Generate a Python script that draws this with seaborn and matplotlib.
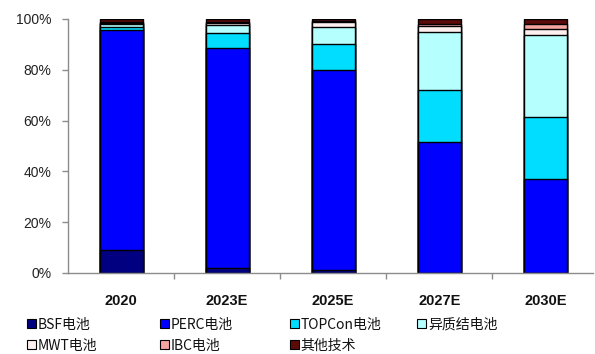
import matplotlib
matplotlib.use("Agg")
import matplotlib.pyplot as plt
from matplotlib.patches import Patch
from matplotlib.ticker import FixedLocator, PercentFormatter
import numpy as np
import seaborn as sns

years = ["2020", "2023E", "2025E", "2027E", "2030E"]
series_names = ["BSF电池", "PERC电池", "TOPCon电池", "异质结电池", "MWT电池", "IBC电池", "其他技术"]
bsf = [9.0, 2.0, 1.0, 0.0, 0.0]
perc = [86.5, 86.5, 79.0, 51.5, 37.0]
topcon = [1.5, 6.0, 10.0, 20.5, 24.4]
hjt = [1.0, 3.0, 7.0, 23.0, 32.3]
mwt = [0.5, 1.0, 2.0, 2.2, 2.5]
ibc = [0.5, 0.5, 0.3, 0.8, 1.8]
other = [1.0, 1.0, 0.7, 2.0, 2.0]
series_colors = ["#000080", "#0000FF", "#00DDFF", "#B5FFFF", "#FFF0F0", "#F4A3A0", "#5C0A0A"]

sns.set_theme(style="white")
plt.rcParams["font.family"] = ["Liberation Sans", "DejaVu Sans"]

fig = plt.figure(figsize=(5.95, 3.54), dpi=100)
ax = fig.add_axes([68 / 595, 81 / 354, 525 / 595, 254 / 354])

stack = np.array([bsf, perc, topcon, hjt, mwt, ibc, other])
cum = np.cumsum(stack, axis=0)

# draw cumulative totals from the top segment down so each layer overlays the next
for i in range(len(series_names) - 1, -1, -1):
    sns.barplot(x=years, y=cum[i], color=series_colors[i], saturation=1,
                width=0.405, edgecolor="black", linewidth=1.0, ax=ax)

ax.set_ylim(0, 100)
ax.set_xlim(-0.5, 4.45)
ax.yaxis.set_major_locator(FixedLocator([0, 20, 40, 60, 80, 100]))
ax.yaxis.set_major_formatter(PercentFormatter(decimals=0))
ax.set_xlabel("")
ax.set_ylabel("")

for s in ["top", "right"]:
    ax.spines[s].set_visible(False)
for s in ["left", "bottom"]:
    ax.spines[s].set_color("#8C8C8C")
    ax.spines[s].set_linewidth(1.0)

ax.tick_params(axis="y", which="major", left=True, length=4, width=1,
               color="#8C8C8C", labelsize=10, pad=8, labelcolor="#222222")
ax.tick_params(axis="x", which="major", bottom=False, labelsize=10.5, pad=9,
               labelcolor="#111111")
for lab in ax.get_xticklabels():
    lab.set_fontweight("bold")
ax.xaxis.set_minor_locator(FixedLocator([0.5, 1.5, 2.5, 3.5]))
ax.tick_params(axis="x", which="minor", bottom=True, length=4, width=1,
               color="#8C8C8C", direction="out")

# legend laid out as four fixed-width columns, two rows
handles = [Patch(facecolor=c, edgecolor="black", linewidth=0.8) for c in series_colors]
columns = [[0, 4], [1, 5], [2, 6], [3]]
col_x = [17, 150, 280, 407]
for xpos, idx in zip(col_x, columns):
    leg = fig.legend([handles[i] for i in idx], [series_names[i] for i in idx],
                     ncol=1, loc="upper left", bbox_to_anchor=(xpos / 595, 1 - 308 / 354),
                     frameon=False, handlelength=0.65, handleheight=0.65,
                     handletextpad=0.15, labelspacing=0.5, borderpad=0.2,
                     prop={"family": ["Noto Sans CJK SC", "DejaVu Sans"], "size": 10})
    for t in leg.get_texts():
        t.set_color("#111111")

fig.savefig("out.png", dpi=100)
